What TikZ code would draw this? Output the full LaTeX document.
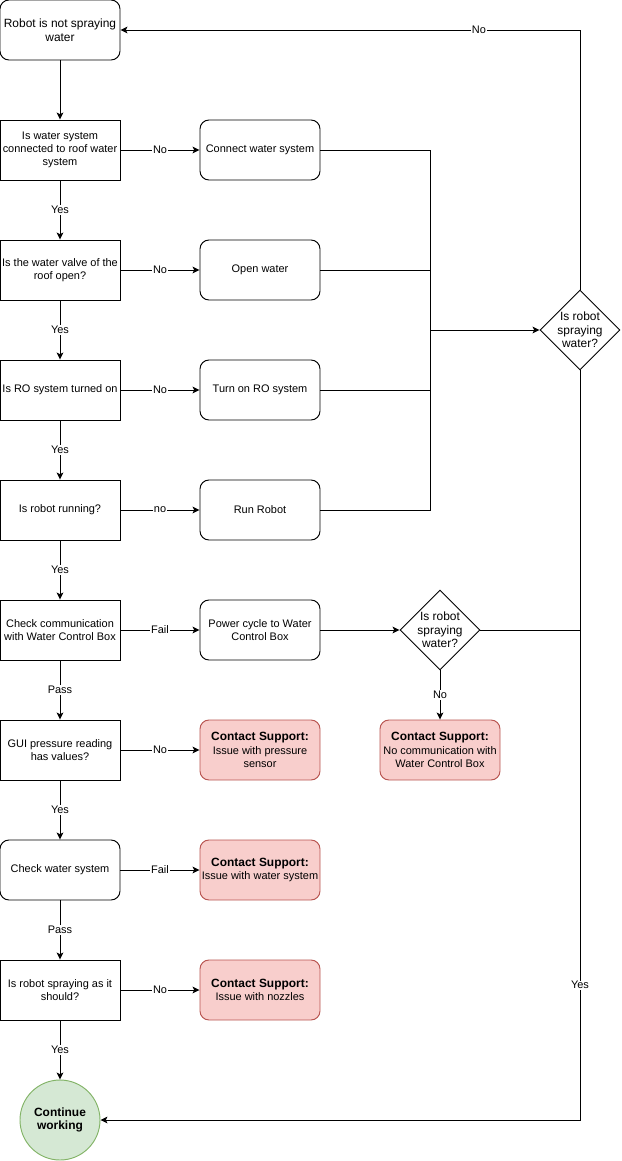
\documentclass[tikz,border=0pt]{standalone}
\usepackage{fontspec}
\setmainfont{Liberation Sans}
\usepackage{tikz}
\usetikzlibrary{arrows.meta,shapes.geometric}
\definecolor{supfill}{HTML}{F8CECC}
\definecolor{supline}{HTML}{B85450}
\definecolor{okfill}{HTML}{D5E8D4}
\definecolor{okline}{HTML}{82B366}
\newcommand{\fsmall}{\fontsize{9.35}{11.4}\selectfont}
\newcommand{\fmid}{\fontsize{10.2}{11.6}\selectfont}
\tikzset{
  flowarr/.style  = {-{Stealth[length=2.1mm,width=2.0mm,inset=0.5mm]},line width=0.8pt},
  flowline/.style = {line width=0.8pt},
  qbox/.style     = {draw,line width=0.8pt,minimum width=3.6cm,minimum height=1.8cm,
                     align=center,inner sep=0pt,font=\fsmall},
  fixbox/.style   = {qbox,rounded corners=0.27cm},
  supbox/.style   = {fixbox,fill=supfill,draw=supline},
  askdia/.style   = {draw,diamond,aspect=1,line width=0.8pt,minimum size=2.4cm,
                     inner sep=-2pt,align=center,font=\fmid},
  donecirc/.style = {draw=okline,fill=okfill,circle,line width=0.8pt,minimum size=2.4cm,
                     align=center,inner sep=0pt,font=\fmid\bfseries},
  elab/.style     = {fill=white,inner sep=0.6pt,font=\fsmall}
}

\begin{document}
\begin{tikzpicture}[x=0.03cm,y=-0.03cm]
  \useasboundingbox (0,0) rectangle (621,1161);
  % left column: checks
  \node[fixbox,font=\fmid] (start)  at (60,30)   {Robot is not spraying\\water};
  \node[qbox]              (qwater) at (60,150)  {Is water system\\connected to roof water\\system};
  \node[qbox]              (qvalve) at (60,270)  {Is the water valve of the\\roof open?};
  \node[qbox]              (qro)    at (60,390)  {Is RO system turned on};
  \node[qbox]              (qrun)   at (60,510)  {Is robot running?};
  \node[qbox]              (qcomm)  at (60,630)  {Check communication\\with Water Control Box};
  \node[qbox]              (qgui)   at (60,750)  {GUI pressure reading\\has values?};
  \node[fixbox]            (qcheck) at (60,870)  {Check water system};
  \node[qbox]              (qspray) at (60,990)  {Is robot spraying as it\\should?};
  \node[donecirc]          (done)   at (60,1120) {Continue\\working};
  % middle column: actions and support
  \node[fixbox] (fconnect) at (260,150) {Connect water system};
  \node[fixbox] (fopen)    at (260,270) {Open water};
  \node[fixbox] (fro)      at (260,390) {Turn on RO system};
  \node[fixbox] (frun)     at (260,510) {Run Robot};
  \node[fixbox] (fpower)   at (260,630) {Power cycle to Water\\Control Box};
  \node[supbox] (sgui)     at (260,750) {{\fmid\bfseries Contact Support:}\\Issue with pressure\\sensor};
  \node[supbox] (scheck)   at (260,870) {{\fmid\bfseries Contact Support:}\\Issue with water system};
  \node[supbox] (snozzle)  at (260,990) {{\fmid\bfseries Contact Support:}\\Issue with nozzles};
  % right side: re-checks
  \node[askdia] (chktwo)   at (440,630) {Is robot\\spraying\\water?};
  \node[supbox] (scomm)    at (440,750) {{\fmid\bfseries Contact Support:}\\No communication with\\Water Control Box};
  \node[askdia] (chkone)   at (580,330) {Is robot\\spraying\\water?};
  \coordinate (merge) at (430,330);

  \draw[flowarr] (start) -- (qwater);
  \draw[flowarr] (qwater) -- node[elab]{Yes}  (qvalve);
  \draw[flowarr] (qvalve) -- node[elab]{Yes}  (qro);
  \draw[flowarr] (qro)    -- node[elab]{Yes}  (qrun);
  \draw[flowarr] (qrun)   -- node[elab]{Yes}  (qcomm);
  \draw[flowarr] (qcomm)  -- node[elab]{Pass} (qgui);
  \draw[flowarr] (qgui)   -- node[elab]{Yes}  (qcheck);
  \draw[flowarr] (qcheck) -- node[elab]{Pass} (qspray);
  \draw[flowarr] (qspray) -- node[elab]{Yes}  (done);

  \draw[flowarr] (qwater) -- node[elab]{No}   (fconnect);
  \draw[flowarr] (qvalve) -- node[elab]{No}   (fopen);
  \draw[flowarr] (qro)    -- node[elab]{No}   (fro);
  \draw[flowarr] (qrun)   -- node[elab]{no}   (frun);
  \draw[flowarr] (qcomm)  -- node[elab]{Fail} (fpower);
  \draw[flowarr] (qgui)   -- node[elab]{No}   (sgui);
  \draw[flowarr] (qcheck) -- node[elab]{Fail} (scheck);
  \draw[flowarr] (qspray) -- node[elab]{No}   (snozzle);

  \draw[flowline] (fconnect.east) -| (merge);
  \draw[flowline] (fopen.east)    -| (merge);
  \draw[flowline] (fro.east)      -| (merge);
  \draw[flowline] (frun.east)     -| (merge);
  \draw[flowarr]  (merge) -- (chkone.west);

  \draw[flowarr] (chkone.north) |- node[elab,pos=0.61]{No} (start.east);
  \draw[flowarr] (chkone.south) |- node[elab,pos=0.41]{Yes} (done.east);

  \draw[flowarr]  (fpower) -- (chktwo.west);
  \draw[flowline] (chktwo.east) -- (chktwo.east -| chkone.south);
  \draw[flowarr]  (chktwo.south) -- node[elab]{No} (scomm);
\end{tikzpicture}
\end{document}
